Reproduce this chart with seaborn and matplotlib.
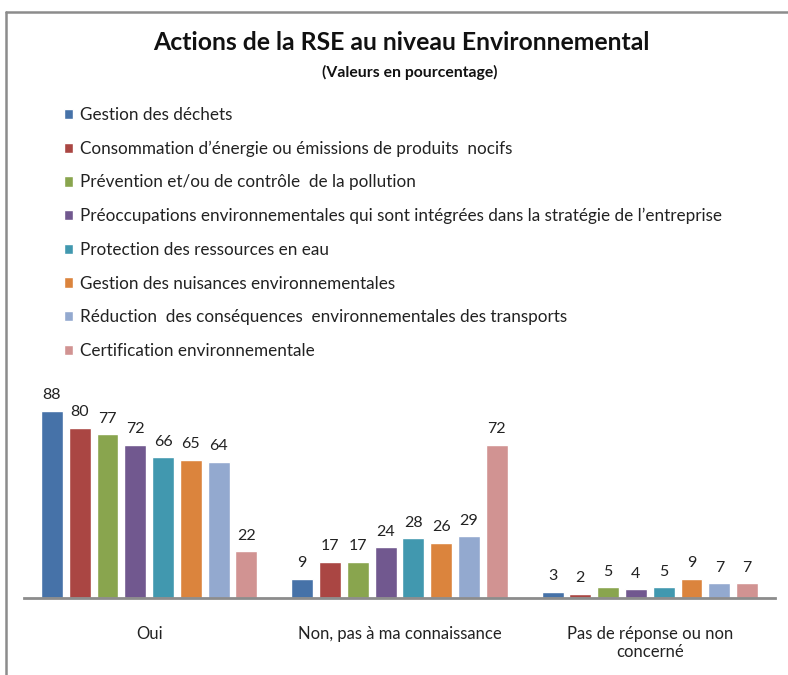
import pandas as pd
import seaborn as sns
import matplotlib.pyplot as plt
from matplotlib.lines import Line2D

# Données (valeurs en pourcentage)
reponses = ["Oui", "Non, pas à ma connaissance", "Pas de réponse ou non\nconcerné"]
actions = [
    "Gestion des déchets",
    "Consommation d’énergie ou émissions de produits  nocifs",
    "Prévention et/ou de contrôle  de la pollution",
    "Préoccupations environnementales qui sont intégrées dans la stratégie de l’entreprise",
    "Protection des ressources en eau",
    "Gestion des nuisances environnementales",
    "Réduction  des conséquences  environnementales des transports",
    "Certification environnementale",
]
oui = [88, 80, 77, 72, 66, 65, 64, 22]
non = [9, 17, 17, 24, 28, 26, 29, 72]
sans_reponse = [3, 2, 5, 4, 5, 9, 7, 7]
couleurs = ["#4672A8", "#AA4643", "#89A54E", "#71588F",
            "#4198AF", "#DB843D", "#93A9CF", "#D19392"]

tabela = pd.DataFrame({
    "Réponse": [r for r in reponses for _ in actions],
    "Action": actions * 3,
    "Valeur": oui + non + sans_reponse,
})

sns.set_style("white")
plt.rcParams["font.family"] = ["Lato", "DejaVu Sans"]

fig = plt.figure(figsize=(7.88, 6.75), dpi=100)
ax = fig.add_axes([24 / 788, 77 / 675, 751 / 788, 213 / 675])

sns.barplot(data=tabela, x="Réponse", y="Valeur", hue="Action",
            hue_order=actions, order=reponses, palette=couleurs,
            width=0.888, gap=0.21, saturation=1, ax=ax, legend=True)

# Étiquettes de valeurs
for cont in ax.containers:
    ax.bar_label(cont, padding=6, fontsize=11.5, color="#222222")

ax.set_xlim(-0.5, 2.5)
ax.set_ylim(0, 100)
ax.set_xlabel("")
ax.set_ylabel("")
ax.set_yticks([])
ax.tick_params(axis="x", length=0, pad=20, labelsize=12, colors="#222222")
for s in ["top", "right", "left"]:
    ax.spines[s].set_visible(False)
ax.spines["bottom"].set_color("#8c8c8c")
ax.spines["bottom"].set_linewidth(2)

# Légende verticale en haut à gauche
handles, labels = ax.get_legend_handles_labels()
ax.get_legend().remove()
fig.legend(handles, labels, loc="upper left", bbox_to_anchor=(57 / 788, 1 - 100 / 675),
           frameon=False, fontsize=12.3, handlelength=0.55, handleheight=0.55,
           handletextpad=0.4, labelspacing=1.03, borderaxespad=0, labelcolor="#222222")

# Titres
fig.text(401 / 788, 1 - 42 / 675, "Actions de la RSE au niveau Environnemental",
         ha="center", va="center", fontsize=17.8, fontweight="bold", color="#111111")
fig.text(410 / 788, 1 - 72 / 675, "(Valeurs en pourcentage)",
         ha="center", va="center", fontsize=11.3, fontweight="bold", color="#111111")

# Cadre du graphique (coupé à droite et en bas)
fig.add_artist(Line2D([6 / 788, 1], [1 - 12 / 675, 1 - 12 / 675], color="#8c8c8c", lw=1.8))
fig.add_artist(Line2D([6 / 788, 6 / 788], [0, 1 - 12 / 675], color="#8c8c8c", lw=1.8))

plt.savefig("out.png", dpi=100)
plt.close()
